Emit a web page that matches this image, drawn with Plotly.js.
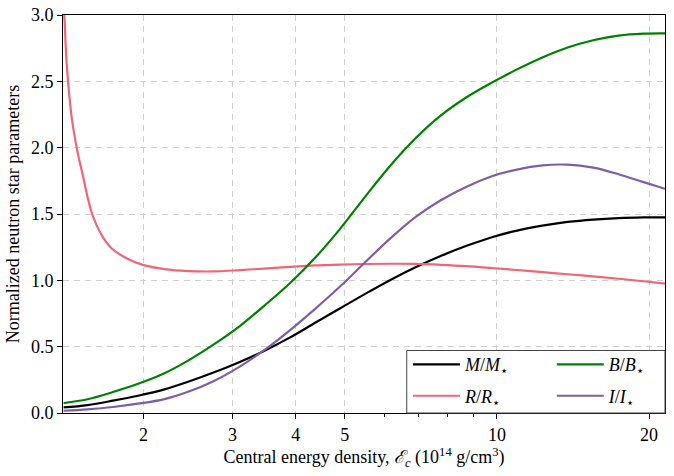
<!DOCTYPE html>
<html>
<head>
<meta charset="utf-8">
<script src="https://cdn.plot.ly/plotly-3.0.1.min.js"></script>
<style>
  html, body { margin: 0; padding: 0; background: #fff; }
  #plot { width: 674px; height: 476px; }
</style>
</head>
<body>
<div id="plot"></div>
<script>
  "use strict";

  // central energy density (10^14 g/cm^3), roughly even steps on the log axis
  let densityX = [1.39, 1.55, 1.74, 1.95, 2.2, 2.45, 2.75, 3.1, 3.47, 3.9, 4.37, 4.9, 5.5, 6.17, 6.92,
    7.76, 8.71, 9.77, 10.96, 12.3, 13.8, 15.5, 17.4, 19.5, 21.5];

  // normalized parameters at densityX
  let massRatio = [0.042, 0.060, 0.093, 0.130, 0.178, 0.235, 0.305, 0.385, 0.47, 0.57, 0.68, 0.79, 0.90,
    1.005, 1.10, 1.185, 1.26, 1.325, 1.375, 1.412, 1.44, 1.458, 1.469, 1.474, 1.475];
  let bindingRatio = [0.075, 0.104, 0.158, 0.22, 0.30, 0.395, 0.515, 0.655, 0.81, 0.98, 1.17, 1.39, 1.635,
    1.87, 2.075, 2.245, 2.38, 2.49, 2.59, 2.68, 2.755, 2.81, 2.845, 2.86, 2.862];
  let inertiaRatio = [0.017, 0.028, 0.045, 0.07, 0.105, 0.16, 0.24, 0.35, 0.475, 0.625, 0.785, 0.955, 1.14,
    1.32, 1.48, 1.605, 1.705, 1.785, 1.835, 1.866, 1.872, 1.85, 1.80, 1.74, 1.69];

  // the radius curve needs extra points where it falls steeply
  let radiusX = [1.386, 1.394, 1.405, 1.418, 1.444, 1.475, 1.513, 1.583, 1.665, 1.73, 1.80, 1.9, 2.0, 2.2,
    2.45, 2.75, 3.1, 3.47, 3.9, 4.37, 4.9, 5.5, 6.17, 6.92, 7.76, 8.71, 9.77, 10.96, 12.3, 13.8, 15.5, 17.4,
    19.5, 21.5];
  let radiusRatio = [3.08, 3.0, 2.72, 2.5, 2.21, 2.0, 1.81, 1.5, 1.32, 1.24, 1.193, 1.145, 1.115, 1.085,
    1.07, 1.067, 1.077, 1.089, 1.102, 1.112, 1.119, 1.123, 1.125, 1.124, 1.117, 1.107, 1.093, 1.078, 1.062,
    1.046, 1.03, 1.012, 0.993, 0.975];

  let labels = ['<i>M</i>/<i>M</i><sub>⋆</sub>', '<i>R</i>/<i>R</i><sub>⋆</sub>',
    '<i>B</i>/<i>B</i><sub>⋆</sub>', '<i>I</i>/<i>I</i><sub>⋆</sub>'];
  let colors = ['#000000', '#ee6677', '#008000', '#7e5ea6'];
  let legendOf = ['legend', 'legend', 'legend2', 'legend2'];

  let xs = [densityX, radiusX, densityX, densityX];
  let ys = [massRatio, radiusRatio, bindingRatio, inertiaRatio];
  let font = 'Liberation Serif, Times New Roman, serif';

  let traces = ys.map((y, i) => ({
    type: 'scatter',
    mode: 'lines',
    x: xs[i],
    y: y,
    name: labels[i],
    legend: legendOf[i],
    legendgroup: 'g' + i,
    line: {color: colors[i], width: 2.2, shape: 'spline', smoothing: 1},
    hoverinfo: 'skip'
  }));

  let gridStyle = {showgrid: true, gridcolor: '#cfcfcf', gridwidth: 1, griddash: '6px,5px'};

  let legendBase = {
    font: {family: font, size: 18, color: '#000'},
    bgcolor: 'rgba(0,0,0,0)',
    borderwidth: 0,
    yanchor: 'top',
    xanchor: 'left',
    y: 0.168,
    tracegroupgap: 5,
    itemwidth: 47
  };

  let layout = {
    width: 674,
    height: 476,
    margin: {l: 63, r: 9, t: 15, b: 63, pad: 0},
    paper_bgcolor: '#fff',
    plot_bgcolor: '#fff',
    font: {family: font, size: 18, color: '#000'},
    showlegend: true,
    xaxis: Object.assign({
      type: 'log',
      range: [Math.log10(1.386), Math.log10(21.5)],
      tickmode: 'array',
      tickvals: [2, 3, 4, 5, 10, 20],
      ticktext: ['2', '3', '4', '5', '10', '20'],
      ticks: 'outside',
      ticklen: 5,
      tickcolor: '#000',
      showline: true,
      linecolor: '#000',
      linewidth: 1,
      mirror: true,
      zeroline: false,
      minor: {tickvals: [6, 7, 8, 9], ticks: 'outside', ticklen: 3, tickcolor: '#000', showgrid: false},
      title: {
        text: 'Central energy density, <i>ℰ</i><sub><i>c</i></sub> (10<sup>14</sup> g/cm<sup>3</sup>)',
        font: {family: font, size: 18},
        standoff: 3
      }
    }, gridStyle),
    yaxis: Object.assign({
      range: [0, 3],
      dtick: 0.5,
      tick0: 0,
      tickformat: '.1f',
      ticks: 'outside',
      ticklen: 5,
      tickcolor: '#000',
      showline: true,
      linecolor: '#000',
      linewidth: 1,
      mirror: true,
      zeroline: false,
      title: {text: 'Normalized neutron star parameters', font: {family: font, size: 18}, standoff: 6}
    }, gridStyle),
    legend: Object.assign({}, legendBase, {x: 0.573}),
    legend2: Object.assign({}, legendBase, {x: 0.812}),
    // legend frame, drawn over the curves like an opaque legend box
    shapes: [{
      type: 'rect', xref: 'paper', yref: 'paper',
      x0: 0.571, x1: 1, y0: 0, y1: 0.157,
      layer: 'above',
      fillcolor: '#fff',
      line: {color: '#444', width: 1}
    }]
  };

  Plotly.newPlot('plot', traces, layout, {displayModeBar: false, staticPlot: true});
</script>
</body>
</html>
